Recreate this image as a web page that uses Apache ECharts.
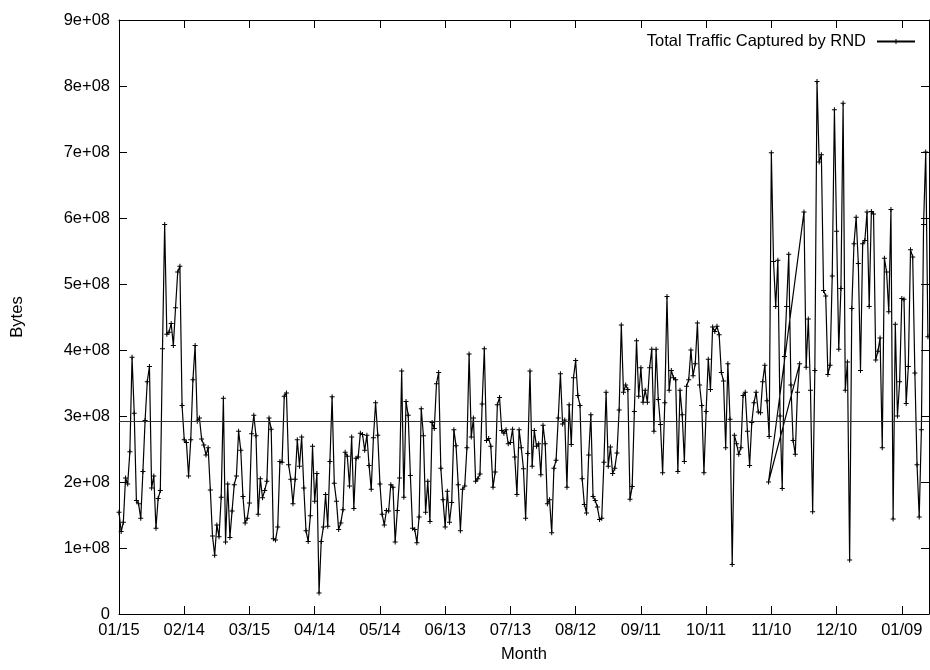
<!DOCTYPE html>
<html>
<head>
<meta charset="utf-8">
<script src="https://cdn.jsdelivr.net/npm/echarts/dist/echarts.min.js"></script>
<style>
  html, body { margin: 0; padding: 0; background: #fff; }
  #chart { width: 930px; height: 670px; }
</style>
</head>
<body>
<div id="chart"></div>
<script>
// Daily captured traffic; day offsets count from 01/15, values are bytes in millions.
// Points are joined in file order, so one late-logged entry dated back near 11/10
// pulls the line back across the plot.
const tickLabels = ['01/15', '02/14', '03/15', '04/14', '05/14', '06/13', '07/13',
                    '08/12', '09/11', '10/11', '11/10', '12/10', '01/09'];

const dayOffsets = [
  0, 1, 2, 3, 4, 5, 6, 7, 8, 9, 10, 11, 12, 13, 14, 15, 16, 17, 18, 19,
  20, 21, 22, 23, 24, 25, 26, 27, 28, 29, 30, 31, 32, 33, 34, 35, 36, 37, 38, 39,
  40, 41, 42, 43, 44, 45, 46, 47, 48, 49, 50, 51, 52, 53, 54, 55, 56, 57, 58, 59,
  60, 61, 62, 63, 64, 65, 66, 67, 68, 69, 70, 71, 72, 73, 74, 75, 76, 77, 78, 79,
  80, 81, 82, 83, 84, 85, 86, 87, 88, 89, 90, 91, 92, 93, 94, 95, 96, 97, 98, 99,
  100, 101, 102, 103, 104, 105, 106, 107, 108, 109, 110, 111, 112, 113, 114, 115, 116, 117, 118, 119,
  120, 121, 122, 123, 124, 125, 126, 127, 128, 129, 130, 131, 132, 133, 134, 135, 136, 137, 138, 139,
  140, 141, 142, 143, 144, 145, 146, 147, 148, 149, 150, 151, 152, 153, 154, 155, 156, 157, 158, 159,
  160, 161, 162, 163, 164, 165, 166, 167, 168, 169, 170, 171, 172, 173, 174, 175, 176, 177, 178, 179,
  180, 181, 182, 183, 184, 185, 186, 187, 188, 189, 190, 191, 192, 193, 194, 195, 196, 197, 198, 199,
  200, 201, 202, 203, 204, 205, 206, 207, 208, 209, 210, 211, 212, 213, 214, 215, 216, 217, 218, 219,
  220, 221, 222, 223, 224, 225, 226, 227, 228, 229, 230, 231, 232, 233, 234, 235, 236, 237, 238, 239,
  240, 241, 242, 243, 244, 245, 246, 247, 248, 249, 250, 251, 252, 253, 254, 255, 256, 257, 258, 259,
  260, 261, 262, 263, 264, 265, 266, 267, 268, 269, 270, 271, 272, 273, 274, 275, 276, 277, 278, 279,
  280, 281, 282, 283, 284, 285, 286, 287, 288, 289, 290, 291, 292, 293, 294, 295, 296, 297, 298, 299,
  300, 301, 302, 303, 304, 305, 306, 307, 308, 309, 310, 311, 312, 313, 298.7, 315, 316, 317, 318, 319,
  320, 321, 322, 323, 324, 325, 326, 327, 328, 329, 330, 331, 332, 333, 334, 335, 336, 337, 338, 339,
  340, 341, 342, 343, 344, 345, 346, 347, 348, 349, 350, 351, 352, 353, 354, 355, 356, 357, 358, 359,
  360, 361, 362, 363, 364, 365, 366, 367, 368, 369, 370, 371, 372
];

const bytesMillions = [
  154, 125, 139, 206, 197, 246, 389, 304, 172, 167, 145, 216, 293, 352, 375, 191, 209, 130, 175, 187,
  402, 590, 424, 427, 440, 407, 464, 518, 527, 316, 264, 260, 209, 264, 355, 407, 292, 297, 265, 256,
  241, 252, 188, 118, 89, 135, 117, 177, 327, 109, 197, 116, 156, 196, 209, 277, 248, 178, 138, 145,
  168, 273, 301, 270, 151, 205, 176, 187, 201, 297, 280, 114, 112, 132, 231, 230, 330, 335, 226, 204,
  167, 204, 264, 224, 268, 191, 126, 110, 149, 254, 171, 213, 32, 110, 132, 181, 133, 231, 329, 198,
  171, 128, 138, 158, 245, 239, 194, 268, 160, 236, 238, 274, 272, 248, 271, 225, 189, 267, 320, 271,
  197, 151, 135, 157, 156, 196, 192, 109, 157, 206, 368, 177, 322, 301, 210, 130, 128, 108, 147, 311,
  270, 154, 201, 140, 290, 281, 349, 366, 221, 173, 132, 186, 139, 169, 279, 255, 196, 126, 189, 194,
  252, 394, 268, 297, 201, 205, 212, 318, 402, 263, 266, 254, 192, 215, 317, 328, 278, 274, 279, 258,
  260, 280, 238, 181, 279, 252, 220, 145, 243, 368, 224, 278, 254, 258, 211, 286, 258, 167, 173, 123,
  221, 233, 297, 364, 288, 294, 192, 317, 257, 358, 384, 331, 316, 205, 166, 153, 241, 302, 178, 172,
  162, 143, 145, 230, 336, 224, 253, 213, 221, 244, 309, 438, 336, 347, 340, 174, 193, 307, 414, 330,
  373, 321, 339, 321, 373, 401, 277, 401, 325, 287, 214, 320, 481, 339, 369, 358, 355, 216, 339, 302,
  231, 345, 355, 400, 361, 379, 441, 347, 316, 214, 307, 386, 340, 435, 428, 436, 423, 366, 353, 252,
  379, 295, 75, 271, 258, 242, 252, 331, 336, 277, 225, 290, 320, 336, 306, 305, 352, 377, 323, 269,
  699, 534, 466, 536, 300, 190, 390, 466, 545, 347, 263, 242, 336, 379, 200, 609, 374, 447, 339, 155,
  369, 807, 685, 696, 490, 482, 363, 377, 512, 764, 580, 401, 493, 774, 339, 382, 82, 463, 561, 601,
  531, 369, 561, 566, 609, 466, 610, 606, 385, 398, 418, 252, 539, 518, 458, 613, 144, 439, 300, 352,
  478, 477, 319, 375, 552, 541, 365, 226, 147, 279, 590, 700, 420
];

// Reference level drawn across the plot
const meanBytes = 2.92e8;

const seriesName = 'Total Traffic Captured by RND';
const dayMax = 372.5;
const yTickStep = 1e8;

const points = dayOffsets.map((d, i) => [d, bytesMillions[i] * 1e6]);

const font = 'Liberation Sans, Arial, Helvetica, sans-serif';
const fontSize = 16.5;
const plusSymbol = 'path://M-0.2,-1H0.2V-0.2H1V0.2H0.2V1H-0.2V0.2H-1V-0.2H-0.2Z';

function sciLabel(v) {
  if (v === 0) return '0';
  const e = Math.floor(Math.log10(v) + 1e-9);
  const m = Math.round(v / Math.pow(10, e));
  return m + 'e+' + String(e).padStart(2, '0');
}

function axisLine() {
  return { show: true, onZero: false, lineStyle: { color: '#000', width: 1 } };
}
function axisTick() {
  return { show: true, inside: true, length: 8, lineStyle: { color: '#000', width: 1 } };
}

const chart = echarts.init(document.getElementById('chart'), null, { renderer: 'canvas' });
chart.setOption({
  animation: false,
  backgroundColor: '#fff',
  textStyle: { fontFamily: font, color: '#000' },
  grid: { left: 119, right: 1, top: 20, bottom: 56, containLabel: false },
  legend: {
    right: 14,
    top: 33,
    padding: 0,
    align: 'right',
    itemWidth: 38,
    itemHeight: 6,
    itemGap: 0,
    textStyle: { fontFamily: font, fontSize: fontSize, color: '#000', padding: [0, 6, 0, 0] },
    data: [seriesName]
  },
  xAxis: [
    {
      type: 'value', min: 0, max: dayMax, interval: 30,
      name: 'Month', nameLocation: 'middle', nameGap: 32,
      nameTextStyle: { fontFamily: font, fontSize: fontSize, color: '#000' },
      axisLine: axisLine(), axisTick: axisTick(), splitLine: { show: false },
      axisLabel: {
        fontFamily: font, fontSize: fontSize, color: '#000', margin: 8, showMaxLabel: false,
        formatter: v => (Math.abs(v % 30) < 1e-6 ? (tickLabels[Math.round(v / 30)] || '') : '')
      }
    },
    {
      type: 'value', min: 0, max: dayMax, interval: 30, position: 'top',
      axisLine: axisLine(), axisTick: axisTick(), splitLine: { show: false },
      axisLabel: { show: false }
    }
  ],
  yAxis: [
    {
      type: 'value', min: 0, max: 9e8, interval: yTickStep,
      name: 'Bytes', nameLocation: 'middle', nameGap: 93, nameRotate: 90,
      nameTextStyle: { fontFamily: font, fontSize: fontSize, color: '#000' },
      axisLine: axisLine(), axisTick: axisTick(), splitLine: { show: false },
      axisLabel: { fontFamily: font, fontSize: fontSize, color: '#000', margin: 9, formatter: sciLabel }
    },
    {
      type: 'value', min: 0, max: 9e8, interval: yTickStep, position: 'right',
      axisLine: axisLine(), axisTick: axisTick(), splitLine: { show: false },
      axisLabel: { show: false }
    }
  ],
  series: [
    {
      name: seriesName,
      type: 'line',
      xAxisIndex: 0,
      yAxisIndex: 0,
      data: points,
      symbol: plusSymbol,
      symbolSize: 5,
      showAllSymbol: true,
      lineStyle: { color: '#000', width: 1.2 },
      itemStyle: { color: '#000' },
      emphasis: { disabled: true },
      markLine: {
        silent: true,
        symbol: 'none',
        label: { show: false },
        lineStyle: { color: '#333', width: 1, type: 'solid' },
        data: [{ yAxis: meanBytes }]
      }
    }
  ]
});
</script>
</body>
</html>
